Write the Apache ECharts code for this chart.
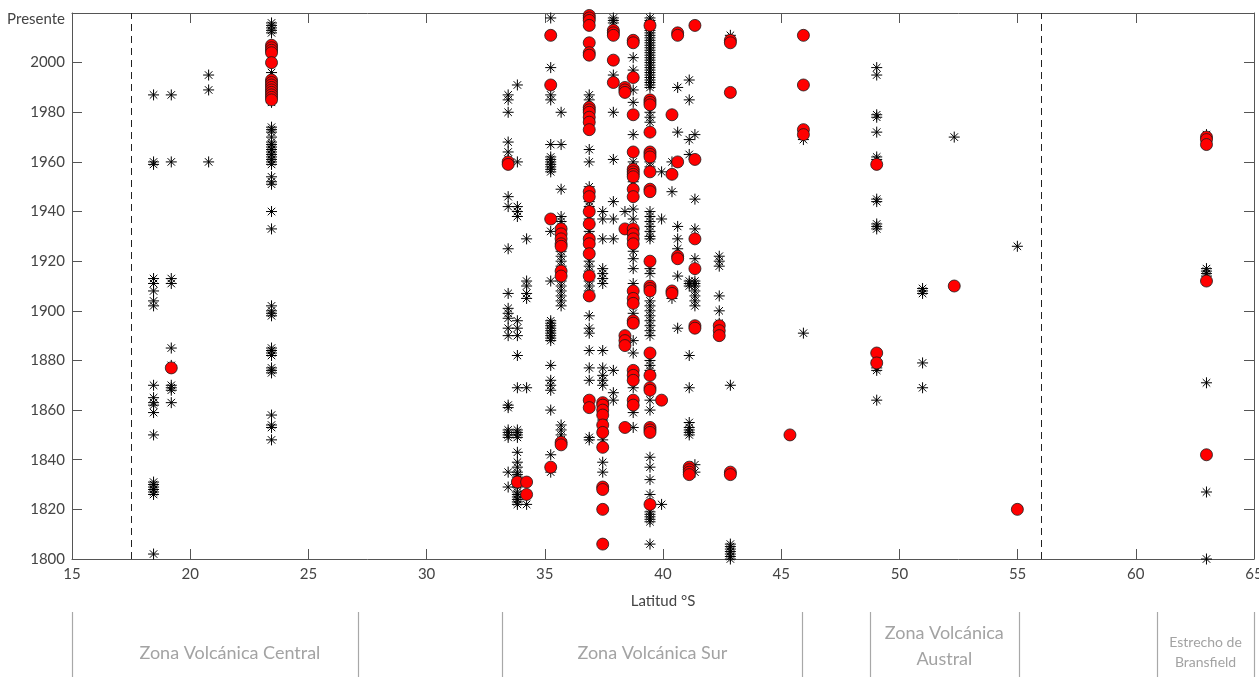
<!DOCTYPE html>
<html>
<head>
<meta charset="utf-8">
<script src="https://cdn.jsdelivr.net/npm/echarts@6/dist/echarts.min.js"></script>
<style>
html,body{margin:0;padding:0;background:#fff;}
#chart{width:1259px;height:677px;}
</style>
</head>
<body>
<div id="chart"></div>
<script>
// ---- Data: [latitude °S, [years]] ----
const starsCentral = [
  [18.45, [1987,1960,1959,1913,1911,1908,1904,1902,1870,1865,1863,1862,1859,1850,1831,1830,1829,1828,1827,1826,1802]],
  [19.2,  [1987,1960,1913,1911,1885,1878,1870,1869,1868,1863]],
  [20.78, [1995,1989,1960]],
  [23.44, [2016,2015,2014,2013,2012,1996,1984,1974,1973,1972,1970,1968,1967,1966,1965,1964,1963,1962,1961,1960,1959,1954,1952,1951,1940,1933,1902,1900,1899,1898,1885,1884,1883,1882,1877,1876,1875,1858,1854,1853,1848]]
];
const redsCentral = [
  [19.2,  [1877]],
  [23.44, [2007,2006,2005,2004,2000,1993,1992,1991,1990,1989,1988,1987,1986,1985]]
];
const starsSur = [
  [33.45, [1987,1985,1980,1968,1964,1961,1959,1946,1942,1925,1907,1901,1899,1897,1893,1890,1862,1861,1852,1851,1850,1849,1835,1829]],
  [33.84, [1991,1960,1942,1940,1938,1896,1893,1890,1882,1869,1852,1851,1850,1849,1843,1839,1837,1835,1834,1833,1832,1830,1829,1827,1826,1825,1824,1823,1822]],
  [34.23, [1929,1912,1910,1907,1905,1869,1822]],
  [35.25, [2018,1998,1987,1985,1967,1962,1961,1960,1959,1958,1957,1956,1932,1912,1896,1895,1894,1893,1892,1891,1890,1889,1888,1878,1872,1870,1868,1860,1842,1835]],
  [35.69, [1980,1967,1949,1938,1936,1934,1932,1930,1928,1926,1924,1922,1920,1918,1916,1914,1912,1910,1908,1906,1904,1902,1854,1852,1850,1848]],
  [36.88, [1987,1985,1965,1960,1950,1948,1944,1942,1937,1932,1930,1924,1920,1918,1916,1912,1910,1908,1898,1893,1891,1884,1877,1872,1849,1848]],
  [37.45, [1940,1937,1929,1917,1915,1913,1911,1884,1877,1874,1872,1870,1856,1852,1848,1839,1835]],
  [37.9,  [2018,2017,2016,1995,1980,1961,1944,1937,1929,1876,1867,1864]],
  [38.39, [1940]],
  [38.74, [2002,1997,1989,1984,1971,1960,1958,1952,1941,1937,1924,1921,1917,1911,1899,1888,1883,1869,1859,1853]],
  [39.45, [2018,2017,2016,2014,2013,2012,2011,2010,2009,2008,2007,2006,2005,2004,2003,2002,2001,2000,1999,1998,1997,1996,1995,1994,1993,1992,1991,1990,1980,1978,1976,1960,1958,1940,1938,1936,1934,1932,1930,1929,1917,1915,1904,1902,1900,1898,1896,1894,1892,1890,1880,1878,1876,1864,1860,1841,1837,1832,1826,1819,1818,1817,1816,1815,1806]],
  [39.94, [1956,1937,1822]],
  [40.38, [1960,1948,1905]],
  [40.62, [1990,1972,1934,1929,1925,1914,1893]],
  [41.11, [1993,1985,1969,1963,1912,1911,1910,1882,1869,1855,1853,1852,1851,1850]],
  [41.35, [1971,1945,1933,1921,1912,1911,1910,1908,1906,1904,1902,1838,1835]],
  [42.38, [1922,1920,1918,1906,1900,1895]],
  [42.85, [2011,1870,1806,1805,1804,1803,1802,1801,1800]],
  [45.94, [1969,1891]]
];
const redsSur = [
  [33.45, [1960,1959]],
  [33.84, [1831]],
  [34.23, [1831,1826]],
  [35.25, [2011,1991,1937,1837]],
  [35.69, [1933,1931,1929,1927,1926,1916,1914,1847,1846]],
  [36.88, [2019,2018,2017,2015,2008,2004,2003,1982,1981,1980,1978,1976,1973,1948,1946,1940,1935,1929,1927,1923,1914,1906,1864,1861]],
  [37.45, [1863,1862,1860,1858,1854,1851,1845,1829,1828,1820,1806]],
  [37.9,  [2013,2012,2011,2001,1992]],
  [38.39, [1990,1989,1988,1933,1890,1888,1886,1853]],
  [38.74, [2009,2008,1994,1979,1964,1957,1956,1955,1954,1949,1946,1933,1931,1929,1927,1908,1905,1903,1896,1895,1876,1874,1872,1864,1862]],
  [39.45, [2015,1985,1984,1983,1972,1964,1963,1962,1956,1949,1948,1920,1910,1909,1908,1883,1874,1869,1868,1853,1852,1851,1822]],
  [39.94, [1864]],
  [40.38, [1979,1955,1908,1907]],
  [40.62, [2012,2011,1960,1922,1921]],
  [41.11, [1837,1836,1835,1834]],
  [41.35, [2015,1961,1929,1917,1894,1893]],
  [42.38, [1894,1892,1890]],
  [42.85, [2009,2008,1988,1835,1834]],
  [45.37, [1850]],
  [45.94, [2011,1991,1973,1971]]
];
const starsAustral = [
  [49.04, [1998,1995,1979,1978,1972,1962,1961,1945,1944,1935,1934,1933,1880,1877,1876,1864]],
  [50.98, [1909,1908,1907,1879,1869]],
  [52.32, [1970]],
  [54.99, [1926]]
];
const redsAustral = [
  [49.04, [1959,1883,1879]],
  [52.32, [1910]],
  [54.99, [1820]]
];
const starsBransfield = [
  [62.99, [1971,1917,1916,1915,1914,1871,1827,1800]]
];
const redsBransfield = [
  [62.99, [1970,1969,1967,1912,1842]]
];
const xTicks = [15,20,25,30,35,40,45,50,55,60,65];
const yTicks = [1800,1820,1840,1860,1880,1900,1920,1940,1960,1980,2000,2020];
const topLabel = 'Presente';
const dashedLats = [17.5, 56];
const zoneNames = [
  {text:'Zona Volcánica Central', center:21.68},
  {text:'Zona Volcánica Sur', center:39.55},
  {text:'Zona Volcánica\nAustral', center:51.9},
  {text:'Estrecho de\nBransfield', center:62.95}
];
const zoneBounds = [15, 27.1, 33.2, 45.9, 48.75, 55.05, 60.9, 65];

function flatten(groups){
  const out = [];
  groups.forEach(g => g[1].forEach(y => out.push([g[0], y])));
  return out;
}
const starData = flatten(starsCentral.concat(starsSur, starsAustral, starsBransfield));
const redData = flatten(redsCentral.concat(redsSur, redsAustral, redsBransfield));

const FONT = 'Lato';
const AX = '#555';
const chart = echarts.init(document.getElementById('chart'), null, {renderer:'canvas'});
const starPath = 'path://M5,0L5,10M0,5L10,5M1.6,1.6L8.4,8.4M1.6,8.4L8.4,1.6';

const option = {
  animation: false,
  backgroundColor: '#fff',
  grid: {left:72, right:5, top:13, bottom:118, containLabel:false, outerBoundsMode:'none'},
  xAxis: [{
    type:'value', min:15, max:65, interval:5, position:'bottom',
    name:'Latitud °S', nameLocation:'middle', nameGap:35,
    nameTextStyle:{fontFamily:FONT, fontSize:15, color:'#444'},
    axisLine:{show:true, lineStyle:{color:AX, width:1}},
    axisTick:{show:true, inside:true, length:10, lineStyle:{color:AX}},
    axisLabel:{fontFamily:FONT, fontSize:15, color:'#444', margin:8,
      formatter: v => xTicks.indexOf(v) >= 0 ? String(v) : ''},
    splitLine:{show:false}
  },{
    type:'value', min:15, max:65, interval:5, position:'top',
    axisLine:{show:true, lineStyle:{color:AX, width:1}},
    axisTick:{show:true, inside:true, length:10, lineStyle:{color:AX}},
    axisLabel:{show:false}, splitLine:{show:false}
  }],
  yAxis: [{
    type:'value', min:1800, max:2020, interval:20, position:'left',
    name:'Año', nameLocation:'middle', nameGap:52, nameRotate:90,
    nameTextStyle:{fontFamily:FONT, fontSize:15, color:'#444'},
    axisLine:{show:true, lineStyle:{color:AX, width:1}},
    axisTick:{show:true, inside:true, length:10, lineStyle:{color:AX}},
    axisLabel:{fontFamily:FONT, fontSize:15, color:'#444', margin:7,
      formatter: v => v === 2020 ? '{p|' + topLabel + '}' : (yTicks.indexOf(v) >= 0 ? String(v) : ''),
      rich:{p:{fontFamily:FONT, fontSize:15, color:'#444', padding:[13,0,0,0]}}},
    splitLine:{show:false}
  },{
    type:'value', min:1800, max:2020, interval:20, position:'right',
    axisLine:{show:true, lineStyle:{color:AX, width:1}},
    axisTick:{show:true, inside:true, length:10, lineStyle:{color:AX}},
    axisLabel:{show:false}, splitLine:{show:false}
  }],
  series: [{
    type:'scatter', name:'asterisk', data: starData, xAxisIndex:0, yAxisIndex:0,
    symbol: starPath, symbolSize: 11, silent:true,
    itemStyle:{color:'rgba(0,0,0,0)', borderColor:'#000', borderWidth:1, opacity:1},
    markLine:{
      silent:true, symbol:['none','none'], label:{show:false},
      lineStyle:{color:'#222', type:[7,5], width:1},
      data: dashedLats.map(v => ({xAxis:v}))
    }
  },{
    type:'scatter', name:'circle', data: redData, xAxisIndex:0, yAxisIndex:0,
    symbol:'circle', symbolSize: 12, silent:true,
    itemStyle:{color:'#ff0000', borderColor:'#1a1a1a', borderWidth:0.8, opacity:1}
  }]
};
chart.setOption(option);

// zone panel below the axis
function drawZones(){
  const els = [];
  const top = 612, bottom = 677;
  zoneBounds.forEach(b => {
    const x = Math.round(chart.convertToPixel({xAxisIndex:0}, b)) + 0.5;
    els.push({type:'line', shape:{x1:x, y1:top, x2:x, y2:bottom},
      style:{stroke:'#a8a8a8', lineWidth:1.2}, silent:true});
  });
  zoneNames.forEach((z, i) => {
    const cx = chart.convertToPixel({xAxisIndex:0}, z.center);
    const small = i === 3;
    els.push({type:'text', x:cx, y: small ? 652 : (i===2 ? 646 : 653), silent:true,
      style:{text:z.text, fontFamily:FONT, fontSize: small ? 14 : 18,
        fill:'#a3a3a3', align:'center', verticalAlign:'middle',
        lineHeight: small ? 20 : 26}});
  });
  chart.setOption({graphic:{elements:els}});
}
drawZones();
</script>
</body>
</html>
